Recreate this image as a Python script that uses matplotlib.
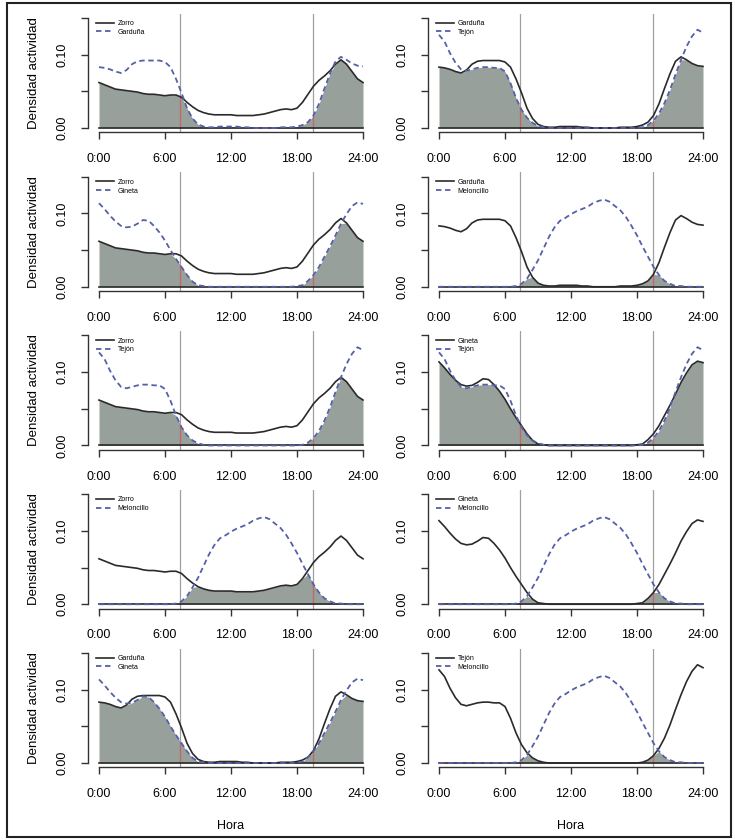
import numpy as np
import matplotlib
matplotlib.use("Agg")
import matplotlib.pyplot as plt
from matplotlib.patches import Rectangle

plt.rcParams['font.family'] = ['Liberation Sans', 'DejaVu Sans']

# hour grid of the density estimates (every half hour)
hours = np.linspace(0, 24, 49)

# activity density per species (0:00 ... 24:00 every 0.5 h)
zorro = [0.062, 0.059, 0.056, 0.053, 0.052, 0.051, 0.050, 0.049, 0.047, 0.046, 0.046, 0.045,
         0.044, 0.045, 0.045, 0.042, 0.035, 0.029, 0.024, 0.021, 0.019, 0.018, 0.018, 0.018,
         0.018, 0.017, 0.017, 0.017, 0.017, 0.018, 0.019, 0.021, 0.023, 0.025, 0.026, 0.025,
         0.027, 0.035, 0.046, 0.057, 0.065, 0.071, 0.078, 0.087, 0.093, 0.087, 0.077, 0.067,
         0.062]
garduna = [0.083, 0.082, 0.080, 0.077, 0.075, 0.079, 0.087, 0.091, 0.092, 0.092, 0.092, 0.092,
           0.090, 0.083, 0.067, 0.048, 0.027, 0.013, 0.005, 0.002, 0.001, 0.001, 0.002, 0.002,
           0.002, 0.002, 0.001, 0.001, 0.000, 0.000, 0.000, 0.000, 0.000, 0.001, 0.001, 0.001,
           0.002, 0.004, 0.008, 0.017, 0.033, 0.054, 0.074, 0.091, 0.097, 0.093, 0.088, 0.085,
           0.084]
gineta = [0.114, 0.106, 0.097, 0.089, 0.083, 0.081, 0.082, 0.086, 0.091, 0.090, 0.083, 0.074,
          0.063, 0.050, 0.038, 0.027, 0.016, 0.007, 0.002, 0.001, 0.000, 0.000, 0.000, 0.000,
          0.000, 0.000, 0.000, 0.000, 0.000, 0.000, 0.000, 0.000, 0.000, 0.000, 0.000, 0.000,
          0.001, 0.002, 0.008, 0.016, 0.027, 0.041, 0.055, 0.070, 0.086, 0.099, 0.110, 0.115,
          0.113]
tejon = [0.127, 0.118, 0.102, 0.089, 0.080, 0.078, 0.080, 0.082, 0.083, 0.083, 0.082, 0.082,
         0.077, 0.061, 0.041, 0.025, 0.014, 0.007, 0.003, 0.001, 0.000, 0.000, 0.000, 0.000,
         0.000, 0.000, 0.000, 0.000, 0.000, 0.000, 0.000, 0.000, 0.000, 0.000, 0.000, 0.000,
         0.000, 0.001, 0.004, 0.010, 0.020, 0.034, 0.052, 0.073, 0.093, 0.111, 0.125, 0.134,
         0.130]
meloncillo = [0.000, 0.000, 0.000, 0.000, 0.000, 0.000, 0.000, 0.000, 0.000, 0.000, 0.000, 0.000,
              0.000, 0.000, 0.001, 0.004, 0.011, 0.023, 0.036, 0.052, 0.068, 0.081, 0.090, 0.094,
              0.099, 0.103, 0.106, 0.109, 0.114, 0.117, 0.119, 0.116, 0.110, 0.104, 0.095, 0.083,
              0.070, 0.055, 0.041, 0.027, 0.016, 0.008, 0.004, 0.001, 0.001, 0.000, 0.000, 0.000,
              0.000]

species = {'Zorro': zorro, 'Garduña': garduna, 'Gineta': gineta,
           'Tejon': tejon, 'Meloncillo': meloncillo}
# labels as printed in the legends
names = {'Zorro': 'Zorro', 'Garduña': 'Garduña', 'Gineta': 'Gineta',
         'Tejon': 'Tejón', 'Meloncillo': 'Meloncillo'}

# panel pairs, row by row (left, right)
pairs = [('Zorro', 'Garduña'), ('Garduña', 'Tejon'),
         ('Zorro', 'Gineta'), ('Garduña', 'Meloncillo'),
         ('Zorro', 'Tejon'), ('Gineta', 'Tejon'),
         ('Zorro', 'Meloncillo'), ('Gineta', 'Meloncillo'),
         ('Garduña', 'Gineta'), ('Tejon', 'Meloncillo')]

sunrise = 7.4
sunset = 19.45
xticks = [0, 6, 12, 18, 24]
xticklabels = ['0:00', '6:00', '12:00', '18:00', '24:00']
yticks = [0.0, 0.05, 0.10, 0.15]
yticklabels = ['0.00', '', '0.10', '']

W, H = 735, 840
fig = plt.figure(figsize=(W / 100, H / 100), dpi=100)

fill_col = '#98a09c'
dash_col = '#5560a8'
line_col = '#2a2a2a'

col_x0 = [99, 439]          # pixel position of 0:00 in each column
px_per_h = 11.0
px_per_y = 110 / 0.15
xpad, ypad = 0.96, 0.006

for k, (a, b) in enumerate(pairs):
    r, c = divmod(k, 2)
    zero_px = 128 + 158.75 * r
    ax_l = col_x0[c] - xpad * px_per_h
    ax_w = (24 + 2 * xpad) * px_per_h
    ax_b = zero_px + ypad * px_per_y
    ax_h = (0.15 + 2 * ypad) * px_per_y
    ax = fig.add_axes([ax_l / W, 1 - ax_b / H, ax_w / W, ax_h / H])

    ya = np.array(species[a])
    yb = np.array(species[b])
    low = np.minimum(ya, yb)

    ax.fill_between(hours, 0, low, color=fill_col, lw=0, zorder=1)
    ax.axvline(sunrise, color='#a0a0a0', lw=0.9, zorder=2)
    ax.axvline(sunset, color='#a0a0a0', lw=0.9, zorder=2)
    for t in (sunrise, sunset):
        ax.plot([t, t], [0, np.interp(t, hours, low)], color='#d05050',
                lw=1.0, alpha=0.7, zorder=2)
    ax.plot([0, 24], [0, 0], color=line_col, lw=1.2, zorder=3)
    ax.plot(hours, ya, color=line_col, lw=1.2, zorder=4, label=names[a])
    ax.plot(hours, yb, color=dash_col, lw=1.3, ls=(0, (3, 2)), zorder=4,
            label=names[b])

    ax.set_xlim(-xpad, 24 + xpad)
    ax.set_ylim(-ypad, 0.15 + ypad)
    for s in ('top', 'right'):
        ax.spines[s].set_visible(False)
    ax.spines['left'].set_bounds(0, 0.15)
    ax.spines['bottom'].set_bounds(0, 24)
    for s in ('left', 'bottom'):
        ax.spines[s].set_color('#333333')
        ax.spines[s].set_linewidth(1.0)
    ax.set_xticks(xticks)
    ax.set_xticklabels(xticklabels)
    ax.set_yticks(yticks)
    ax.set_yticklabels(yticklabels, rotation=90, va='center')
    ax.tick_params(axis='x', direction='out', length=5, width=1.0,
                   color='#333333', labelsize=9, pad=10)
    ax.tick_params(axis='y', direction='out', length=5, width=1.0,
                   color='#333333', labelsize=9, pad=9)

    if c == 0:
        ax.set_ylabel('Densidad actividad', fontsize=9.5, labelpad=12)
    if r == 4:
        ax.set_xlabel('Hora', fontsize=9, labelpad=14)

    # legend in the upper left corner, top about 7 px below the axes top
    leg_x = (col_x0[c] - 3 - ax_l) / ax_w
    leg_y = 1 - 6.5 / ax_h
    ax.legend(loc='upper left', bbox_to_anchor=(leg_x, leg_y), frameon=False,
              fontsize=5, handlelength=2.6, handletextpad=0.5,
              labelspacing=0.25, borderpad=0, borderaxespad=0)

fig.add_artist(Rectangle((7 / W, 3 / H), (731 - 7) / W, (837 - 3) / H,
                         transform=fig.transFigure, fill=False,
                         ec='#222222', lw=1.5))

fig.savefig('out.png', dpi=100, facecolor='white')
